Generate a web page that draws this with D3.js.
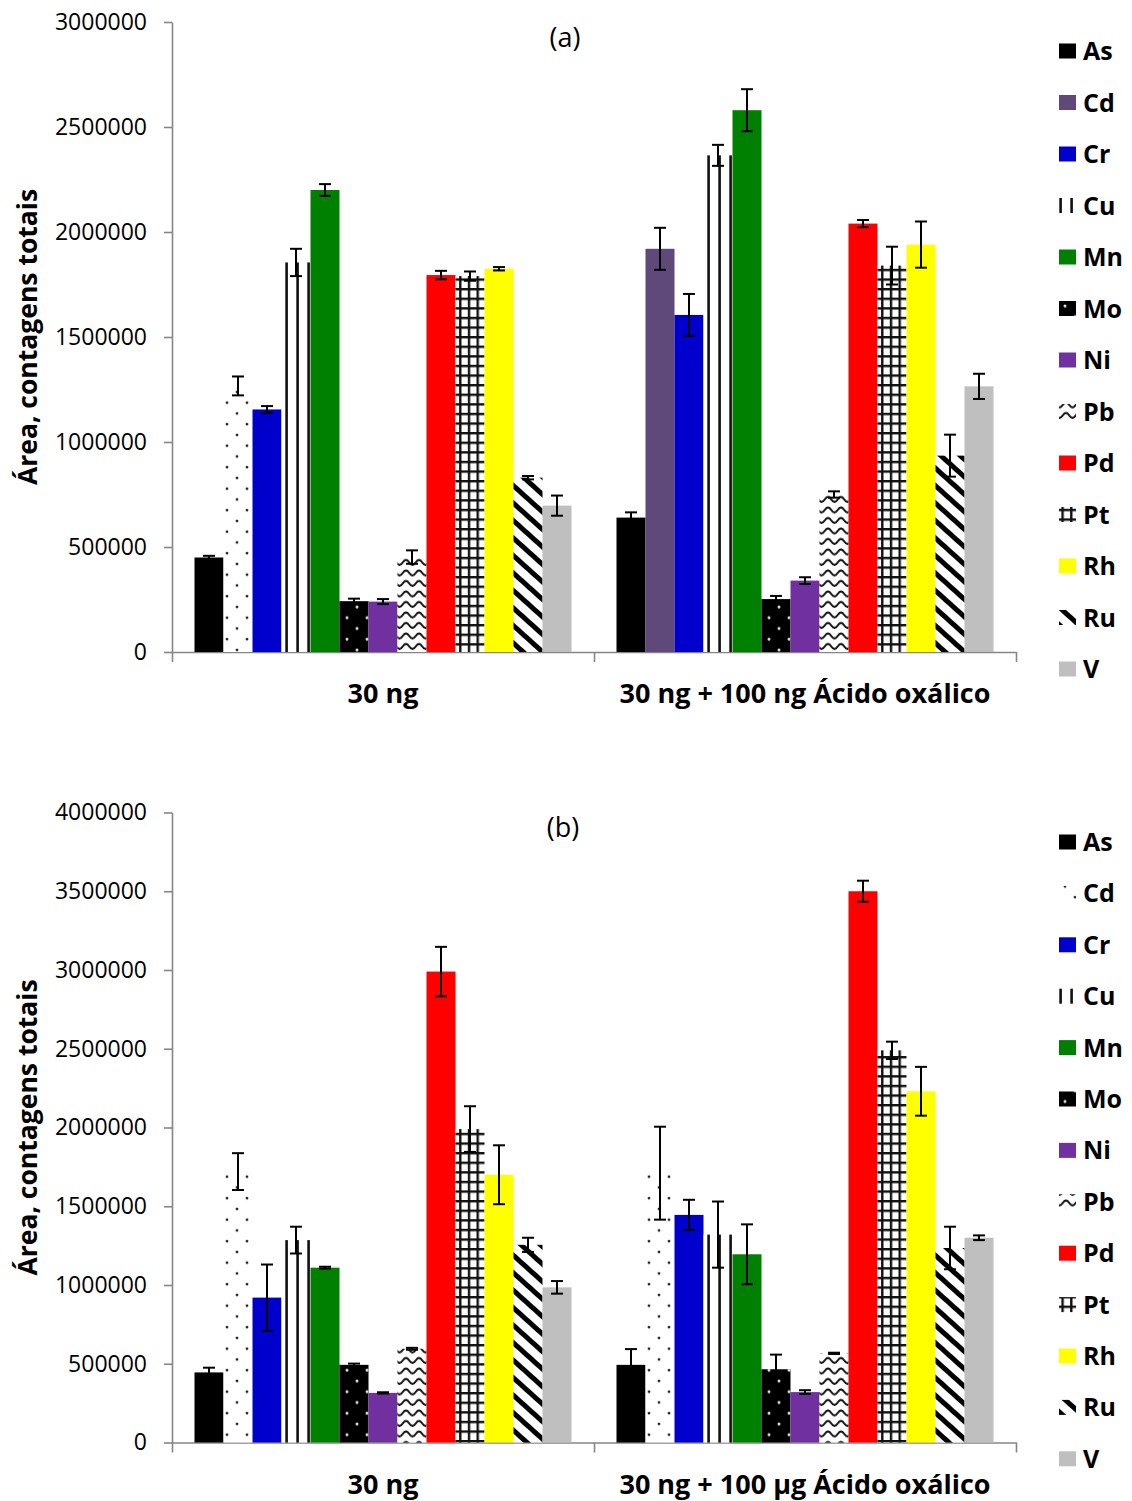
<!DOCTYPE html>
<html><head><meta charset="utf-8">
<script src="https://cdn.jsdelivr.net/npm/d3@7"></script>
<style>body{margin:0;background:#fff} svg{display:block}</style>
</head><body><svg id="chart" width="1132" height="1501"></svg>
<script>
const elements = ["As","Cd","Cr","Cu","Mn","Mo","Ni","Pb","Pd","Pt","Rh","Ru","V"];
const groupsA = ["30 ng", "30 ng + 100 ng Ácido oxálico"];
const groupsB = ["30 ng", "30 ng + 100 µg Ácido oxálico"];
const valuesA1 = [450000,1267000,1155000,1855000,2200000,242000,240000,452000,1795000,1790000,1825000,830000,697000];
const errorsA1 = [8000,45000,16000,65000,28000,12000,12000,32000,20000,22000,8000,8000,48000];
const valuesA2 = [640000,1920000,1605000,2365000,2580000,252000,340000,750000,2040000,1840000,1940000,935000,1265000];
const errorsA2 = [25000,100000,100000,50000,100000,15000,16000,15000,17000,90000,110000,100000,60000];
const valuesB1 = [445000,1720000,920000,1285000,1110000,493000,315000,595000,2990000,1990000,1700000,1255000,985000];
const errorsB1 = [30000,117000,210000,85000,6000,8000,4000,6000,157000,145000,187000,45000,40000];
const valuesB2 = [493000,1710000,1445000,1320000,1195000,465000,320000,566000,3500000,2490000,2230000,1235000,1300000];
const errorsB2 = [100000,295000,96000,210000,190000,93000,12000,4000,67000,55000,155000,135000,15000];
const ticksA = [0,500000,1000000,1500000,2000000,2500000,3000000];
const ticksB = [0,500000,1000000,1500000,2000000,2500000,3000000,3500000,4000000];
const yTitle = "Área, contagens totais";

const svg = d3.select("#chart");
const defs = svg.append("defs");
const FONT = "'Open Sans', 'DejaVu Sans', sans-serif";

// patterns
function pat(id, w, h, extra) {
  const p = defs.append("pattern").attr("id", id).attr("patternUnits", "userSpaceOnUse")
    .attr("width", w).attr("height", h);
  if (extra) p.attr("patternTransform", extra);
  return p;
}
{ const p = pat("pDots", 20, 21.5);
  p.append("rect").attr("width", 20).attr("height", 21.5).attr("fill", "#fff");
  p.append("circle").attr("cx", 5).attr("cy", 5).attr("r", 1.4).attr("fill", "#222");
  p.append("circle").attr("cx", 15).attr("cy", 15.75).attr("r", 1.4).attr("fill", "#222"); }
{ const p = pat("pMo", 20, 21.5);
  p.append("rect").attr("width", 20).attr("height", 21.5).attr("fill", "#000");
  p.append("circle").attr("cx", 5).attr("cy", 5).attr("r", 1.5).attr("fill", "#ddd");
  p.append("circle").attr("cx", 15).attr("cy", 15.75).attr("r", 1.5).attr("fill", "#ddd"); }
{ const p = pat("pCu", 11, 10);
  p.append("rect").attr("width", 11).attr("height", 10).attr("fill", "#fff");
  p.append("rect").attr("x", 3.3).attr("width", 2.6).attr("height", 10).attr("fill", "#111"); }
{ const p = pat("pPb", 13, 10.5);
  p.append("rect").attr("width", 13).attr("height", 10.5).attr("fill", "#fff");
  p.append("path").attr("d", "M-3.25,6 Q0,1 3.25,6 T9.75,6 T16.25,6").attr("fill", "none")
    .attr("stroke", "#111").attr("stroke-width", 2); }
{ const p = pat("pPt", 8.7, 9.6);
  p.append("rect").attr("width", 8.7).attr("height", 9.6).attr("fill", "#fff");
  p.append("rect").attr("x", 0).attr("width", 2.4).attr("height", 9.6).attr("fill", "#111");
  p.append("rect").attr("y", 0).attr("width", 8.7).attr("height", 2.4).attr("fill", "#111"); }
{ const p = pat("pRu", 13, 13, "rotate(42)");
  p.append("rect").attr("width", 13).attr("height", 13).attr("fill", "#fff");
  p.append("rect").attr("width", 13).attr("height", 5).attr("fill", "#000"); }

const solid = {As:"#000000", Cr:"#0000CC", Mn:"#008000", Ni:"#7030A0", Pd:"#FF0000", Rh:"#FFFF00", V:"#BFBFBF"};
const patFill = {Cu:"url(#pCu)", Mo:"url(#pMo)", Pb:"url(#pPb)", Pt:"url(#pPt)", Ru:"url(#pRu)"};
function fillFor(el, cdSolid) {
  if (el === "Cd") return cdSolid ? "#5F497A" : "url(#pDots)";
  return solid[el] || patFill[el];
}

const xLeft = 172, xRight = 1016;

function drawChart(o) {
  const g = svg.append("g");
  const y = d3.scaleLinear().domain([0, o.ticks[o.ticks.length - 1]]).range([o.bottom, o.top]);
  const xg = d3.scaleBand().domain(o.groups).range([xLeft, xRight]).padding(0);
  const xe = d3.scaleBand().domain(elements).range([22.5, xg.bandwidth() - 22.5]).padding(0);

  // y axis
  const ya = g.append("g").attr("transform", `translate(${xLeft},0)`)
    .call(d3.axisLeft(y).tickValues(o.ticks).tickSize(8).tickSizeOuter(0).tickPadding(17).tickFormat(d3.format("d")));
  ya.selectAll("path,line").attr("stroke", "#868686").attr("stroke-width", 1.6);
  ya.selectAll("text").attr("font-family", FONT).attr("font-size", 23).attr("fill", "#000");

  // x axis
  const xb = d3.scaleLinear().domain([0, 2]).range([xLeft, xRight]);
  const xa = g.append("g").attr("transform", `translate(0,${o.bottom})`)
    .call(d3.axisBottom(xb).tickValues([0, 1, 2]).tickSize(10).tickSizeOuter(0).tickFormat(""));
  xa.selectAll("path,line").attr("stroke", "#868686").attr("stroke-width", 1.6);

  // bars
  o.groups.forEach((grp, gi) => {
    const vals = o.values[gi], errs = o.errors[gi];
    const gg = g.append("g").attr("transform", `translate(${xg(grp)},0)`);
    const data = elements.map((el, i) => ({el, v: vals[i], e: errs[i]}));
    gg.selectAll("rect.bar").data(data).join("rect").attr("class", "bar")
      .attr("x", d => xe(d.el)).attr("width", xe.bandwidth())
      .attr("y", d => y(d.v)).attr("height", d => o.bottom - y(d.v))
      .attr("fill", d => fillFor(d.el, o.cdSolid[gi]));
    const eb = gg.selectAll("g.err").data(data).join("g").attr("class", "err")
      .attr("stroke", "#000").attr("stroke-width", 2);
    eb.append("line").attr("x1", d => xe(d.el) + xe.bandwidth() / 2).attr("x2", d => xe(d.el) + xe.bandwidth() / 2)
      .attr("y1", d => y(d.v + d.e)).attr("y2", d => y(d.v - d.e));
    eb.append("line").attr("x1", d => xe(d.el) + xe.bandwidth() / 2 - 6).attr("x2", d => xe(d.el) + xe.bandwidth() / 2 + 6)
      .attr("y1", d => y(d.v + d.e)).attr("y2", d => y(d.v + d.e));
    eb.append("line").attr("x1", d => xe(d.el) + xe.bandwidth() / 2 - 6).attr("x2", d => xe(d.el) + xe.bandwidth() / 2 + 6)
      .attr("y1", d => y(d.v - d.e)).attr("y2", d => y(d.v - d.e));
    // group label
    g.append("text").attr("x", xg(grp) + xg.bandwidth() / 2).attr("y", o.bottom + 51)
      .attr("text-anchor", "middle").attr("font-family", FONT).attr("font-weight", "bold")
      .attr("font-size", 27).text(grp);
  });

  // title
  g.append("text").attr("x", o.titleX).attr("y", o.titleY).attr("dy", "0.35em").attr("text-anchor", "middle")
    .attr("font-family", FONT).attr("font-size", 27).text(o.title);

  // y title
  g.append("text").attr("transform", `translate(37,${(o.top + o.bottom) / 2}) rotate(-90)`)
    .attr("text-anchor", "middle").attr("font-family", FONT).attr("font-weight", "bold")
    .attr("font-size", 26.5).text(yTitle);

  // legend
  const lg = g.append("g");
  elements.forEach((el, i) => {
    const cy = o.legendY0 + i * o.legendStep;
    lg.append("rect").attr("x", 1059).attr("y", cy - 7.5).attr("width", 17).attr("height", 15)
      .attr("fill", fillFor(el, o.cdSolid[2]));
    lg.append("text").attr("x", 1083).attr("y", cy).attr("dy", "0.36em").attr("font-family", FONT)
      .attr("font-weight", "bold").attr("font-size", 25).text(el);
  });
}

drawChart({top: 22, bottom: 652, ticks: ticksA, groups: groupsA, values: [valuesA1, valuesA2],
  errors: [errorsA1, errorsA2], title: "(a)", titleX: 565, titleY: 38, legendY0: 51, legendStep: 51.5,
  cdSolid: [false, true, true]});
drawChart({top: 812.5, bottom: 1442.5, ticks: ticksB, groups: groupsB, values: [valuesB1, valuesB2],
  errors: [errorsB1, errorsB2], title: "(b)", titleX: 563, titleY: 828, legendY0: 842, legendStep: 51.4,
  cdSolid: [false, false, false]});
</script></body></html>
